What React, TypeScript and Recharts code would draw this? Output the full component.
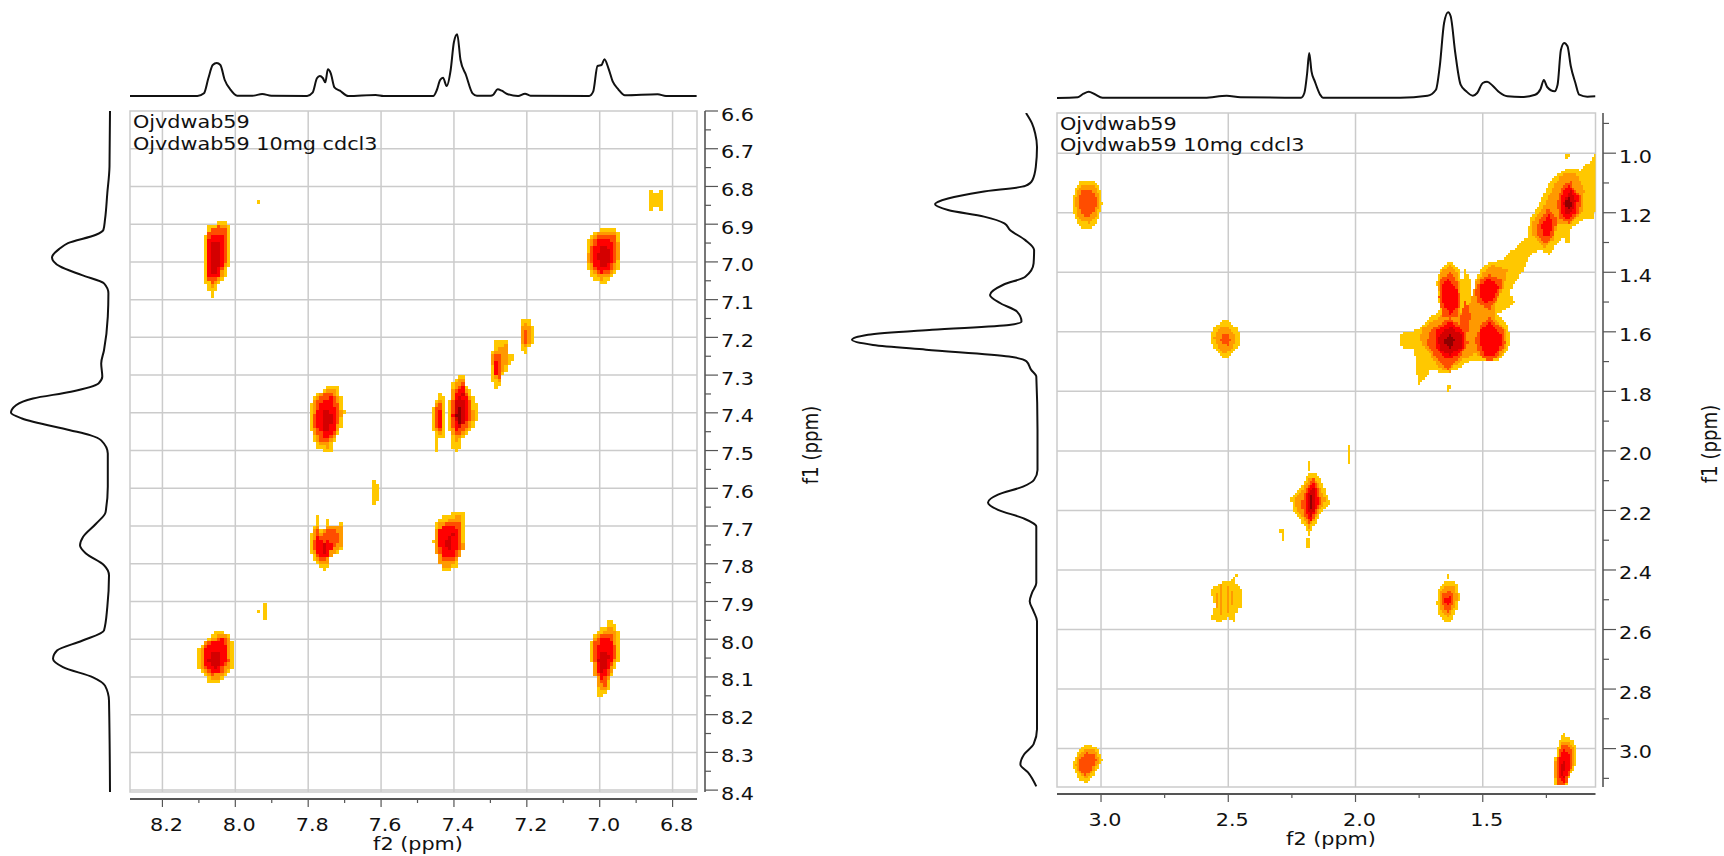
import { CartesianGrid, Line, LineChart, ReferenceArea, Scatter, ScatterChart, XAxis, YAxis } from "recharts";

type Pt = [number, number];
type Ring = [number, Pt[]];

// contour colours, weakest to strongest
const levelColors = ["#ffc800", "#ff9900", "#ff4d00", "#ff0000", "#d40000", "#8f0000"];

// 1D projections: [ppm, intensity]
const leftTopTrace: Pt[] = [
  [8.289, 0], [8.104, 0], [8.086, 2.7], [8.074, 17.7], [8.062, 31], [8.051, 33], [8.041, 31], [8.029, 16], [8.014, 6.7], [7.995, 0.3],
  [7.953, 0.3], [7.926, 2], [7.901, 0.3], [7.803, 0], [7.788, 3.3], [7.776, 17.7], [7.768, 20], [7.76, 18], [7.753, 13.7], [7.746, 26.7],
  [7.738, 22.7], [7.728, 8.7], [7.713, 5.3], [7.69, 0], [7.615, 1], [7.593, 0], [7.457, 0], [7.447, 6], [7.438, 16], [7.43, 18.3],
  [7.42, 10], [7.409, 26], [7.4, 54], [7.391, 61.7], [7.382, 36], [7.367, 21], [7.349, 2.7], [7.337, 0.3], [7.299, 0.3], [7.292, 1.3],
  [7.28, 6.7], [7.269, 5.3], [7.254, 2], [7.224, 0], [7.205, 2.3], [7.19, 0.3], [7.029, 0], [7.018, 4.3], [7.006, 30], [6.995, 31],
  [6.987, 36.7], [6.976, 27.7], [6.964, 14.3], [6.949, 6.7], [6.931, 0.7], [6.841, 1.7], [6.818, 0], [6.734, 0],
];
const leftSideTrace: Pt[] = [
  [6.6, 0], [6.747, 0.5], [6.818, 2.7], [6.888, 5], [6.915, 6.6], [6.928, 14], [6.95, 42], [6.964, 50], [6.988, 58], [7.012, 50],
  [7.035, 28], [7.057, 6], [7.083, 1.6], [7.145, 2.2], [7.234, 6], [7.269, 8.8], [7.304, 7.7], [7.322, 11.5], [7.344, 39], [7.362, 77],
  [7.38, 94], [7.4, 99], [7.415, 88], [7.446, 40], [7.459, 20], [7.473, 8.8], [7.508, 2.2], [7.596, 2.2], [7.663, 4.4], [7.694, 14],
  [7.729, 27], [7.751, 30], [7.773, 24], [7.804, 6], [7.831, 1], [7.915, 2.7], [7.977, 6], [8.004, 28], [8.03, 53], [8.052, 57],
  [8.074, 47], [8.101, 17], [8.123, 5], [8.163, 1], [8.405, 0],
];
const rightTopTrace: Pt[] = [
  [3.173, 0], [3.091, 0.7], [3.069, 4.3], [3.048, 6.3], [3.026, 4], [2.994, 0.3], [2.593, 0.3], [2.506, 2.3], [2.452, 0.7], [2.214, 0.3],
  [2.201, 5], [2.19, 25], [2.182, 45], [2.173, 26.7], [2.16, 16.7], [2.139, 3.3], [2.128, 0.3], [1.825, 0.3], [1.717, 2.3], [1.684, 8.3],
  [1.669, 31.7], [1.652, 75], [1.636, 85.7], [1.626, 81.7], [1.608, 45], [1.587, 13.3], [1.565, 6.7], [1.539, 2.3], [1.522, 5], [1.5, 15],
  [1.483, 16.3], [1.461, 12.3], [1.435, 5.7], [1.403, 1.7], [1.348, 1], [1.294, 3.3], [1.273, 9], [1.26, 18], [1.247, 11], [1.218, 6.7],
  [1.206, 13.3], [1.193, 48], [1.18, 55], [1.167, 51.7], [1.154, 31.7], [1.136, 15], [1.121, 3.3], [1.089, 1.3], [1.057, 1.7],
];
const rightSideTrace: Pt[] = [
  [0.865, 12], [0.9, 6], [0.934, 2.8], [0.979, 1], [1.046, 2.2], [1.09, 5.5], [1.11, 12.7], [1.13, 57], [1.152, 90], [1.171, 103],
  [1.191, 90], [1.213, 54], [1.236, 33.6], [1.258, 28], [1.292, 12.7], [1.325, 3.9], [1.37, 4.4], [1.415, 12.7], [1.442, 34.7], [1.476, 48],
  [1.504, 37.5], [1.532, 21], [1.565, 16.5], [1.577, 29], [1.593, 106], [1.61, 170], [1.627, 186], [1.644, 165], [1.66, 112], [1.683, 29],
  [1.699, 11.6], [1.727, 7], [1.75, 1.7], [1.929, 0.5], [2.064, 0.5], [2.097, 3.9], [2.12, 15], [2.147, 40], [2.173, 50], [2.198, 40],
  [2.226, 15], [2.254, 1.7], [2.444, 1.7], [2.477, 6], [2.505, 8.3], [2.539, 4.4], [2.572, 1], [2.935, 1], [2.985, 4.4], [3.019, 13.8],
  [3.053, 17.6], [3.08, 10], [3.127, 1.7],
];

// cross peaks: [contour level, outline as [f2, f1] ppm]
const peak805698: Ring[] = [
  [0, [[8.036, 6.891], [8.022, 6.891], [8.017, 6.906], [8.017, 7.008], [8.026, 7.039], [8.044, 7.057], [8.051, 7.074], [8.066, 7.092], [8.077, 7.074], [8.086, 7.039], [8.086, 6.942], [8.077, 6.906]]],
  [1, [[8.036, 6.9], [8.026, 6.9], [8.022, 6.915], [8.022, 6.99], [8.03, 7.03], [8.05, 7.05], [8.065, 7.07], [8.074, 7.05], [8.081, 7.03], [8.081, 6.95], [8.072, 6.915]]],
  [2, [[8.05, 6.905], [8.025, 6.915], [8.02, 6.98], [8.03, 7.01], [8.045, 7.04], [8.07, 7.055], [8.08, 7.03], [8.08, 6.93], [8.07, 6.91]]],
  [3, [[8.06, 6.928], [8.036, 6.928], [8.034, 7.0], [8.045, 7.04], [8.075, 7.04], [8.08, 6.99], [8.078, 6.94]]],
  [4, [[8.065, 6.95], [8.045, 6.95], [8.042, 7.0], [8.05, 7.03], [8.068, 7.03], [8.072, 6.99]]],
];
const peak70698: Ring[] = [
  [0, [[6.985, 6.91], [6.955, 6.91], [6.945, 6.935], [6.941, 6.985], [6.95, 7.02], [6.965, 7.04], [6.985, 7.057], [7.0, 7.057], [7.025, 7.035], [7.039, 7.0], [7.035, 6.94], [7.015, 6.92]]],
  [1, [[6.985, 6.92], [6.957, 6.92], [6.95, 6.945], [6.947, 6.985], [6.955, 7.015], [6.97, 7.035], [7.0, 7.045], [7.02, 7.025], [7.033, 6.995], [7.028, 6.945], [7.01, 6.925]]],
  [2, [[6.985, 6.925], [6.96, 6.93], [6.952, 6.95], [6.952, 6.99], [6.965, 7.02], [6.985, 7.035], [7.01, 7.025], [7.027, 6.99], [7.02, 6.945], [7.005, 6.93]]],
  [3, [[6.985, 6.935], [6.965, 6.945], [6.96, 6.99], [6.975, 7.02], [6.995, 7.03], [7.015, 7.01], [7.018, 6.96], [7.005, 6.94]]],
  [4, [[6.985, 6.955], [6.975, 6.965], [6.973, 6.995], [6.985, 7.01], [7.0, 7.01], [7.008, 6.985], [7.0, 6.96]]],
];
const peak775740: Ring[] = [
  [0, [[7.74, 7.327], [7.72, 7.327], [7.71, 7.36], [7.7, 7.4], [7.71, 7.44], [7.725, 7.47], [7.735, 7.5], [7.755, 7.5], [7.775, 7.49], [7.79, 7.46], [7.798, 7.42], [7.79, 7.36], [7.76, 7.34]]],
  [1, [[7.74, 7.335], [7.724, 7.337], [7.715, 7.365], [7.708, 7.405], [7.716, 7.44], [7.73, 7.465], [7.75, 7.49], [7.775, 7.475], [7.79, 7.45], [7.792, 7.42], [7.784, 7.365], [7.76, 7.345]]],
  [2, [[7.735, 7.345], [7.72, 7.365], [7.715, 7.41], [7.725, 7.45], [7.745, 7.48], [7.77, 7.47], [7.785, 7.43], [7.78, 7.37], [7.755, 7.35]]],
  [3, [[7.74, 7.36], [7.725, 7.385], [7.725, 7.44], [7.75, 7.47], [7.775, 7.44], [7.775, 7.39], [7.755, 7.365]]],
  [4, [[7.745, 7.39], [7.735, 7.41], [7.74, 7.44], [7.755, 7.45], [7.765, 7.43], [7.76, 7.4]]],
];
const peak743742: Ring[] = [
  [0, [[7.44, 7.345], [7.425, 7.36], [7.425, 7.46], [7.44, 7.47], [7.448, 7.5], [7.452, 7.5], [7.452, 7.45], [7.462, 7.44], [7.462, 7.39], [7.452, 7.37]]],
  [1, [[7.44, 7.365], [7.43, 7.37], [7.43, 7.455], [7.44, 7.46], [7.453, 7.44], [7.457, 7.4], [7.45, 7.375]]],
  [2, [[7.44, 7.375], [7.432, 7.39], [7.432, 7.45], [7.445, 7.45], [7.452, 7.42], [7.45, 7.385]]],
  [3, [[7.44, 7.39], [7.434, 7.4], [7.434, 7.44], [7.445, 7.44], [7.448, 7.41]]],
];
const peak739738: Ring[] = [
  [0, [[7.385, 7.3], [7.37, 7.3], [7.368, 7.32], [7.345, 7.36], [7.337, 7.385], [7.337, 7.42], [7.35, 7.44], [7.375, 7.47], [7.385, 7.5], [7.4, 7.5], [7.41, 7.46], [7.415, 7.41], [7.41, 7.34], [7.4, 7.315]]],
  [1, [[7.385, 7.31], [7.372, 7.31], [7.365, 7.34], [7.35, 7.37], [7.345, 7.42], [7.36, 7.44], [7.38, 7.46], [7.395, 7.48], [7.405, 7.45], [7.41, 7.41], [7.405, 7.34], [7.395, 7.325]]],
  [2, [[7.38, 7.32], [7.37, 7.335], [7.355, 7.37], [7.35, 7.415], [7.37, 7.44], [7.385, 7.46], [7.4, 7.45], [7.407, 7.41], [7.4, 7.345], [7.39, 7.33]]],
  [3, [[7.375, 7.33], [7.36, 7.375], [7.357, 7.41], [7.375, 7.43], [7.395, 7.45], [7.403, 7.41], [7.397, 7.35]]],
  [4, [[7.38, 7.35], [7.368, 7.38], [7.368, 7.42], [7.385, 7.44], [7.4, 7.41], [7.395, 7.365]]],
  [5, [[7.385, 7.385], [7.378, 7.4], [7.38, 7.42], [7.39, 7.425], [7.395, 7.4]]],
];
const peak728727: Ring[] = [
  [0, [[7.285, 7.21], [7.255, 7.21], [7.25, 7.24], [7.236, 7.245], [7.236, 7.26], [7.25, 7.27], [7.25, 7.285], [7.265, 7.3], [7.28, 7.335], [7.29, 7.335], [7.299, 7.29], [7.299, 7.25]]],
  [1, [[7.28, 7.225], [7.255, 7.22], [7.255, 7.27], [7.265, 7.29], [7.28, 7.32], [7.292, 7.3], [7.295, 7.25]]],
  [2, [[7.28, 7.24], [7.27, 7.25], [7.268, 7.28], [7.28, 7.31], [7.29, 7.29], [7.292, 7.25]]],
  [3, [[7.285, 7.26], [7.275, 7.27], [7.278, 7.295], [7.286, 7.3], [7.29, 7.27]]],
];
const peak720720: Ring[] = [
  [0, [[7.207, 7.147], [7.197, 7.147], [7.183, 7.17], [7.183, 7.21], [7.195, 7.23], [7.195, 7.245], [7.208, 7.245], [7.22, 7.22], [7.22, 7.165]]],
  [1, [[7.205, 7.16], [7.19, 7.175], [7.19, 7.21], [7.2, 7.23], [7.215, 7.215], [7.215, 7.175]]],
  [2, [[7.205, 7.175], [7.197, 7.185], [7.197, 7.21], [7.205, 7.22], [7.212, 7.2]]],
];
const peak775775: Ring[] = [
  [0, [[7.778, 7.672], [7.772, 7.672], [7.768, 7.71], [7.755, 7.715], [7.75, 7.683], [7.742, 7.683], [7.74, 7.7], [7.725, 7.7], [7.705, 7.69], [7.705, 7.755], [7.72, 7.77], [7.74, 7.78], [7.745, 7.8], [7.75, 7.818], [7.758, 7.818], [7.78, 7.8], [7.795, 7.76], [7.798, 7.75], [7.79, 7.71], [7.78, 7.7]]],
  [1, [[7.775, 7.7], [7.76, 7.72], [7.748, 7.695], [7.735, 7.695], [7.71, 7.695], [7.71, 7.755], [7.725, 7.77], [7.738, 7.78], [7.75, 7.805], [7.775, 7.795], [7.79, 7.76], [7.787, 7.71]]],
  [2, [[7.775, 7.71], [7.76, 7.73], [7.75, 7.71], [7.722, 7.705], [7.715, 7.745], [7.74, 7.77], [7.75, 7.795], [7.775, 7.785], [7.787, 7.75]]],
  [3, [[7.775, 7.73], [7.755, 7.745], [7.74, 7.735], [7.735, 7.76], [7.75, 7.785], [7.772, 7.78], [7.782, 7.75]]],
  [4, [[7.76, 7.745], [7.75, 7.755], [7.755, 7.775], [7.765, 7.77]]],
];
const peak742774: Ring[] = [
  [0, [[7.395, 7.663], [7.371, 7.663], [7.371, 7.76], [7.385, 7.785], [7.395, 7.81], [7.41, 7.818], [7.43, 7.818], [7.44, 7.8], [7.45, 7.77], [7.457, 7.74], [7.45, 7.69], [7.43, 7.675]]],
  [1, [[7.395, 7.675], [7.377, 7.675], [7.375, 7.76], [7.388, 7.79], [7.41, 7.808], [7.435, 7.805], [7.45, 7.77], [7.452, 7.72], [7.44, 7.69], [7.42, 7.685]]],
  [2, [[7.4, 7.685], [7.382, 7.69], [7.38, 7.755], [7.395, 7.79], [7.43, 7.795], [7.445, 7.76], [7.447, 7.72], [7.43, 7.695]]],
  [3, [[7.41, 7.695], [7.39, 7.705], [7.388, 7.75], [7.4, 7.78], [7.43, 7.78], [7.44, 7.75], [7.44, 7.71], [7.425, 7.7]]],
  [4, [[7.41, 7.72], [7.403, 7.74], [7.408, 7.76], [7.42, 7.76], [7.425, 7.74]]],
];
const peak805805: Ring[] = [
  [0, [[8.04, 7.973], [8.03, 7.983], [8.015, 7.985], [8.006, 8.01], [8.006, 8.07], [8.02, 8.09], [8.035, 8.105], [8.05, 8.119], [8.07, 8.119], [8.09, 8.09], [8.104, 8.07], [8.104, 8.03], [8.09, 8.01], [8.065, 7.985]]],
  [1, [[8.035, 7.985], [8.015, 7.995], [8.012, 8.065], [8.03, 8.095], [8.05, 8.11], [8.075, 8.1], [8.095, 8.07], [8.095, 8.03], [8.085, 8.01], [8.06, 7.995]]],
  [2, [[8.035, 7.995], [8.02, 8.005], [8.018, 8.06], [8.04, 8.09], [8.07, 8.095], [8.09, 8.07], [8.09, 8.025], [8.07, 8.005]]],
  [3, [[8.04, 8.0], [8.026, 8.015], [8.025, 8.06], [8.045, 8.085], [8.07, 8.085], [8.085, 8.065], [8.085, 8.03], [8.07, 8.01]]],
  [4, [[8.045, 8.03], [8.035, 8.05], [8.04, 8.07], [8.06, 8.075], [8.075, 8.06], [8.07, 8.035]]],
];
const peak70805: Ring[] = [
  [0, [[6.985, 7.953], [6.96, 7.953], [6.946, 7.98], [6.946, 8.05], [6.965, 8.09], [6.975, 8.13], [6.995, 8.152], [7.005, 8.152], [7.01, 8.12], [7.02, 8.06], [7.029, 8.06], [7.029, 8.01], [7.015, 8.0], [7.01, 7.975], [6.985, 7.97]]],
  [1, [[6.985, 7.965], [6.96, 7.97], [6.952, 7.985], [6.952, 8.05], [6.97, 8.09], [6.985, 8.13], [7.0, 8.135], [7.015, 8.09], [7.02, 8.01], [7.005, 7.985], [6.985, 7.98]]],
  [2, [[6.98, 7.985], [6.96, 7.985], [6.957, 8.05], [6.975, 8.09], [6.99, 8.125], [7.005, 8.1], [7.015, 8.05], [7.015, 8.01], [7.0, 7.99]]],
  [3, [[6.98, 7.995], [6.965, 8.005], [6.963, 8.05], [6.98, 8.09], [6.995, 8.11], [7.008, 8.08], [7.012, 8.03], [7.0, 8.0]]],
  [4, [[6.985, 8.03], [6.975, 8.045], [6.985, 8.08], [7.0, 8.085], [7.005, 8.05], [6.998, 8.03]]],
];
const leftSpecks: Ring[] = [
  [0, [[7.625, 7.574], [7.62, 7.574], [7.62, 7.582], [7.609, 7.59], [7.609, 7.63], [7.62, 7.64], [7.626, 7.645]]],
  [0, [[6.866, 6.811], [6.858, 6.811], [6.858, 6.82], [6.84, 6.82], [6.84, 6.811], [6.83, 6.811], [6.83, 6.864], [6.84, 6.864], [6.84, 6.855], [6.858, 6.855], [6.858, 6.864], [6.866, 6.864]]],
  [0, [[7.94, 6.838], [7.933, 6.838], [7.933, 6.847], [7.94, 6.847]]],
  [0, [[7.943, 7.917], [7.932, 7.917], [7.932, 7.934], [7.943, 7.934]]],
  [0, [[7.923, 7.902], [7.916, 7.902], [7.916, 7.953], [7.923, 7.953]]],
];

const peak307116: Ring[] = [
  [0, [[3.08, 1.09], [3.025, 1.09], [3.0, 1.13], [2.994, 1.17], [3.01, 1.215], [3.03, 1.25], [3.08, 1.25], [3.105, 1.215], [3.113, 1.17], [3.105, 1.13]]],
  [1, [[3.075, 1.105], [3.03, 1.105], [3.01, 1.135], [3.005, 1.17], [3.02, 1.21], [3.04, 1.235], [3.075, 1.23], [3.095, 1.205], [3.102, 1.165], [3.095, 1.13]]],
  [2, [[3.07, 1.125], [3.035, 1.125], [3.02, 1.15], [3.02, 1.18], [3.03, 1.2], [3.05, 1.215], [3.075, 1.205], [3.09, 1.175], [3.085, 1.14]]],
];
const peak252162: Ring[] = [
  [0, [[2.52, 1.56], [2.495, 1.565], [2.465, 1.59], [2.452, 1.62], [2.46, 1.65], [2.49, 1.68], [2.505, 1.69], [2.52, 1.692], [2.55, 1.66], [2.571, 1.63], [2.56, 1.59]]],
  [1, [[2.515, 1.58], [2.48, 1.6], [2.47, 1.625], [2.485, 1.655], [2.515, 1.675], [2.545, 1.645], [2.555, 1.62], [2.54, 1.59]]],
  [2, [[2.505, 1.605], [2.49, 1.625], [2.505, 1.645], [2.53, 1.635], [2.525, 1.61]]],
];
const diagonalCluster: Ring[] = [
  [0, [[1.058, 1.006], [1.057, 1.068], [1.057, 1.185], [1.061, 1.219], [1.101, 1.224], [1.148, 1.247], [1.168, 1.275], [1.208, 1.303], [1.235, 1.342], [1.275, 1.325], [1.315, 1.342], [1.342, 1.398], [1.375, 1.437], [1.395, 1.465], [1.375, 1.504], [1.409, 1.526], [1.442, 1.538], [1.402, 1.582], [1.389, 1.627], [1.402, 1.666], [1.449, 1.7], [1.502, 1.694], [1.556, 1.7], [1.602, 1.728], [1.649, 1.739], [1.703, 1.728], [1.723, 1.75], [1.749, 1.778], [1.763, 1.728], [1.769, 1.661], [1.823, 1.65], [1.823, 1.605], [1.756, 1.594], [1.703, 1.549], [1.669, 1.526], [1.683, 1.437], [1.663, 1.387], [1.629, 1.364], [1.596, 1.387], [1.582, 1.437], [1.569, 1.387], [1.549, 1.426], [1.542, 1.482], [1.522, 1.415], [1.509, 1.387], [1.462, 1.364], [1.422, 1.359], [1.369, 1.314], [1.322, 1.28], [1.315, 1.224], [1.275, 1.169], [1.248, 1.113], [1.208, 1.068], [1.175, 1.057], [1.155, 1.051], [1.115, 1.057], [1.081, 1.029]]],
  [0, [[1.172, 1.004], [1.158, 1.004], [1.165, 1.022], [1.172, 1.022]]],
  [0, [[1.645, 1.78], [1.622, 1.775], [1.63, 1.798], [1.645, 1.798]]],
  [0, [[1.176, 1.27], [1.156, 1.27], [1.16, 1.3], [1.172, 1.3]]],
  [1, [[1.135, 1.068], [1.101, 1.124], [1.108, 1.191], [1.155, 1.241], [1.208, 1.236], [1.222, 1.292], [1.262, 1.314], [1.302, 1.28], [1.308, 1.236], [1.262, 1.18], [1.228, 1.124], [1.195, 1.073]]],
  [1, [[1.629, 1.375], [1.598, 1.403], [1.589, 1.482], [1.589, 1.538], [1.556, 1.515], [1.529, 1.437], [1.502, 1.403], [1.462, 1.375], [1.402, 1.392], [1.422, 1.459], [1.455, 1.515], [1.455, 1.549], [1.409, 1.594], [1.406, 1.65], [1.435, 1.689], [1.489, 1.689], [1.529, 1.672], [1.582, 1.694], [1.636, 1.733], [1.676, 1.717], [1.709, 1.672], [1.749, 1.627], [1.736, 1.588], [1.676, 1.554], [1.656, 1.538], [1.676, 1.448], [1.663, 1.398]]],
  [2, [[1.162, 1.096], [1.115, 1.141], [1.121, 1.196], [1.162, 1.236], [1.202, 1.219], [1.208, 1.169], [1.195, 1.124]]],
  [2, [[1.242, 1.185], [1.208, 1.224], [1.222, 1.275], [1.255, 1.303], [1.288, 1.275], [1.282, 1.23]]],
  [2, [[1.629, 1.398], [1.596, 1.437], [1.593, 1.515], [1.602, 1.554], [1.656, 1.549], [1.673, 1.482], [1.665, 1.426]]],
  [2, [[1.476, 1.409], [1.422, 1.426], [1.442, 1.493], [1.476, 1.526], [1.522, 1.504], [1.529, 1.459], [1.509, 1.426]]],
  [2, [[1.569, 1.493], [1.549, 1.538], [1.556, 1.594], [1.582, 1.616], [1.589, 1.549]]],
  [2, [[1.629, 1.554], [1.569, 1.588], [1.558, 1.638], [1.589, 1.683], [1.636, 1.728], [1.676, 1.694], [1.723, 1.638], [1.703, 1.594]]],
  [2, [[1.476, 1.554], [1.422, 1.588], [1.411, 1.638], [1.442, 1.683], [1.482, 1.7], [1.515, 1.672], [1.529, 1.627], [1.509, 1.577]]],
  [3, [[1.162, 1.107], [1.125, 1.146], [1.135, 1.202], [1.168, 1.224], [1.195, 1.196], [1.195, 1.146]]],
  [3, [[1.242, 1.208], [1.222, 1.236], [1.235, 1.275], [1.262, 1.28], [1.268, 1.241]]],
  [3, [[1.636, 1.42], [1.602, 1.459], [1.602, 1.515], [1.629, 1.543], [1.656, 1.504], [1.663, 1.448]]],
  [3, [[1.476, 1.42], [1.435, 1.448], [1.462, 1.493], [1.489, 1.504], [1.515, 1.476], [1.509, 1.443]]],
  [3, [[1.629, 1.566], [1.576, 1.599], [1.569, 1.644], [1.602, 1.683], [1.649, 1.689], [1.689, 1.65], [1.689, 1.599]]],
  [3, [[1.476, 1.571], [1.429, 1.605], [1.429, 1.65], [1.455, 1.683], [1.495, 1.677], [1.515, 1.638], [1.509, 1.594]]],
  [4, [[1.158, 1.124], [1.135, 1.157], [1.148, 1.196], [1.175, 1.208], [1.181, 1.163]]],
  [4, [[1.629, 1.582], [1.585, 1.61], [1.585, 1.655], [1.629, 1.677], [1.669, 1.661], [1.676, 1.616]]],
  [5, [[1.164, 1.146], [1.148, 1.169], [1.164, 1.191], [1.175, 1.169]]],
  [5, [[1.629, 1.605], [1.606, 1.627], [1.629, 1.655], [1.656, 1.633]]],
];
const peak218217: Ring[] = [
  [0, [[2.16, 2.073], [2.139, 2.092], [2.106, 2.159], [2.1, 2.178], [2.128, 2.198], [2.16, 2.248], [2.182, 2.282], [2.203, 2.248], [2.247, 2.198], [2.253, 2.159], [2.203, 2.108], [2.188, 2.08]]],
  [1, [[2.165, 2.09], [2.145, 2.11], [2.118, 2.165], [2.135, 2.195], [2.165, 2.235], [2.183, 2.26], [2.2, 2.235], [2.235, 2.19], [2.24, 2.165], [2.2, 2.12], [2.185, 2.095]]],
  [2, [[2.165, 2.095], [2.15, 2.115], [2.135, 2.17], [2.15, 2.205], [2.18, 2.245], [2.2, 2.22], [2.215, 2.175], [2.19, 2.12]]],
  [3, [[2.165, 2.105], [2.155, 2.125], [2.145, 2.17], [2.16, 2.21], [2.18, 2.235], [2.195, 2.2], [2.2, 2.165], [2.185, 2.125]]],
  [4, [[2.165, 2.12], [2.158, 2.15], [2.16, 2.2], [2.178, 2.22], [2.19, 2.185], [2.187, 2.145]]],
  [5, [[2.172, 2.15], [2.165, 2.17], [2.172, 2.2], [2.182, 2.185], [2.18, 2.16]]],
];
const peak250250: Ring[] = [
  [0, [[2.474, 2.416], [2.468, 2.444], [2.446, 2.466], [2.442, 2.522], [2.46, 2.53], [2.474, 2.555], [2.478, 2.572], [2.5, 2.56], [2.539, 2.578], [2.567, 2.561], [2.55, 2.52], [2.571, 2.466], [2.528, 2.444], [2.485, 2.433]]],
  [1, [[2.536, 2.45], [2.528, 2.45], [2.525, 2.55], [2.536, 2.55]]],
  [1, [[2.51, 2.458], [2.5, 2.458], [2.5, 2.54], [2.51, 2.54]]],
  [1, [[2.552, 2.48], [2.544, 2.48], [2.544, 2.53], [2.552, 2.53]]],
  [1, [[2.488, 2.47], [2.48, 2.47], [2.48, 2.52], [2.488, 2.52]]],
];
const peak164250: Ring[] = [
  [0, [[1.652, 2.441], [1.604, 2.441], [1.591, 2.488], [1.604, 2.539], [1.63, 2.578], [1.647, 2.578], [1.673, 2.55], [1.682, 2.511], [1.673, 2.466]]],
  [1, [[1.645, 2.455], [1.61, 2.455], [1.6, 2.49], [1.612, 2.53], [1.64, 2.56], [1.665, 2.535], [1.672, 2.5], [1.665, 2.47]]],
  [2, [[1.64, 2.47], [1.62, 2.475], [1.615, 2.5], [1.625, 2.53], [1.645, 2.54], [1.658, 2.515], [1.658, 2.485]]],
  [3, [[1.635, 2.49], [1.625, 2.5], [1.632, 2.52], [1.645, 2.52], [1.648, 2.5]]],
];
const peak306305: Ring[] = [
  [0, [[3.058, 2.985], [3.015, 2.997], [2.994, 3.041], [3.026, 3.086], [3.058, 3.114], [3.091, 3.103], [3.113, 3.058], [3.091, 3.014]]],
  [1, [[3.055, 3.0], [3.025, 3.005], [3.005, 3.04], [3.035, 3.08], [3.06, 3.1], [3.085, 3.085], [3.102, 3.055], [3.085, 3.02]]],
  [2, [[3.055, 3.012], [3.028, 3.022], [3.018, 3.04], [3.04, 3.075], [3.065, 3.092], [3.09, 3.065], [3.08, 3.028]]],
];
const peak117305: Ring[] = [
  [0, [[1.186, 2.95], [1.175, 2.964], [1.143, 2.969], [1.132, 3.002], [1.136, 3.058], [1.165, 3.103], [1.17, 3.127], [1.214, 3.127], [1.223, 3.058], [1.208, 3.002], [1.197, 2.969]]],
  [1, [[1.19, 2.975], [1.15, 2.985], [1.14, 3.01], [1.142, 3.055], [1.165, 3.1], [1.175, 3.127], [1.212, 3.127], [1.218, 3.055], [1.2, 3.01]]],
  [2, [[1.19, 2.985], [1.155, 2.995], [1.147, 3.03], [1.155, 3.075], [1.175, 3.125], [1.208, 3.125], [1.213, 3.05], [1.198, 3.005]]],
  [3, [[1.185, 3.005], [1.16, 3.02], [1.16, 3.07], [1.18, 3.115], [1.205, 3.09], [1.205, 3.04]]],
  [4, [[1.185, 3.04], [1.175, 3.06], [1.185, 3.1], [1.197, 3.07]]],
];
const rightSpecks: Ring[] = [
  [0, [[2.19, 2.036], [2.175, 2.036], [2.175, 2.064], [2.19, 2.064]]],
  [0, [[2.297, 2.263], [2.283, 2.263], [2.283, 2.298], [2.29, 2.298]]],
  [0, [[2.197, 2.29], [2.177, 2.29], [2.177, 2.326], [2.197, 2.326]]],
  [0, [[2.027, 1.981], [2.019, 1.981], [2.019, 2.044], [2.027, 2.044]]],
  [0, [[1.645, 2.416], [1.638, 2.416], [1.638, 2.428], [1.645, 2.428]]],
];

const leftPeaks = [peak805698, peak70698, peak775740, peak743742, peak739738, peak728727, peak720720, peak775775, peak742774, peak805805, peak70805, leftSpecks];
const rightPeaks = [peak307116, peak252162, diagonalCluster, peak218217, peak250250, peak164250, peak306305, peak117305, rightSpecks];

const leftF2Major = [8.2, 8.0, 7.8, 7.6, 7.4, 7.2, 7.0, 6.8];
const leftF2Minor = [8.1, 7.9, 7.7, 7.5, 7.3, 7.1, 6.9];
const leftF1Major = [6.6, 6.7, 6.8, 6.9, 7.0, 7.1, 7.2, 7.3, 7.4, 7.5, 7.6, 7.7, 7.8, 7.9, 8.0, 8.1, 8.2, 8.3, 8.4];
const leftF1Minor = [6.65, 6.75, 6.85, 6.95, 7.05, 7.15, 7.25, 7.35, 7.45, 7.55, 7.65, 7.75, 7.85, 7.95, 8.05, 8.15, 8.25, 8.35];
const rightF2Major = [3.0, 2.5, 2.0, 1.5];
const rightF2Minor = [2.75, 2.25, 1.75, 1.25];
const rightF1Major = [1.0, 1.2, 1.4, 1.6, 1.8, 2.0, 2.2, 2.4, 2.6, 2.8, 3.0];
const rightF1Minor = [0.9, 1.1, 1.3, 1.5, 1.7, 1.9, 2.1, 2.3, 2.5, 2.7, 2.9, 3.1];

const FONT = "'DejaVu Sans', sans-serif";
const INK = "#111";
const STRIP_PAD = 14;

const toSpectrum = (pts: Pt[]) => pts.map(([ppm, intensity]) => ({ ppm, intensity }));
const byLevel = (groups: Ring[][]) => groups.flat().sort((a, b) => a[0] - b[0]);

// the source was exported slightly wider than tall, hence the stretch
function WideText({ x, y, rotate, anchor = "start", children }: any) {
  const tf = rotate
    ? `translate(${x} ${y}) rotate(-90) scale(1 1.14)`
    : `translate(${x} ${y}) scale(1.14 1)`;
  return (
    <text transform={tf} fontFamily={FONT} fontSize={18.2} fill={INK} textAnchor={anchor}>
      {children}
    </text>
  );
}

// paints a contour outline on the data grid of the spectrum, row by row
function ContourCells({ points, fill, cellW, cellH }: any) {
  if (!points?.length) return null;
  const ys = points.map((p: any) => p.y);
  const r0 = Math.floor(Math.min(...ys) / cellH);
  const r1 = Math.ceil(Math.max(...ys) / cellH);
  let d = "";
  for (let r = r0; r <= r1; r++) {
    const cy = (r + 0.5) * cellH;
    const xs: number[] = [];
    points.forEach((a: any, i: number) => {
      const b = points[(i + 1) % points.length];
      if (a.y <= cy !== b.y <= cy) xs.push(a.x + ((cy - a.y) / (b.y - a.y)) * (b.x - a.x));
    });
    xs.sort((m, n) => m - n);
    for (let i = 0; i + 1 < xs.length; i += 2) {
      const c0 = Math.round(xs[i] / cellW);
      const c1 = Math.max(c0 + 1, Math.round(xs[i + 1] / cellW));
      d += `M${c0 * cellW} ${r * cellH}H${c1 * cellW}V${(r + 1) * cellH}H${c0 * cellW}Z`;
    }
  }
  return <path d={d} fill={fill} stroke="none" shapeRendering="crispEdges" />;
}

const NoMark = () => <g />;

function Panel({ p }: { p: any }) {
  const { box, f2Domain, f1Domain } = p;
  const w = box.right - box.left;
  const h = box.bottom - box.top;
  const rings = byLevel(p.peaks);
  const stripW = p.f1TitleX - p.yAxisX + 20;
  return (
    <>
      {/* top projection */}
      <div style={{ position: "absolute", left: box.left, top: p.topY }}>
        <LineChart width={w} height={p.topH + 2} data={toSpectrum(p.topTrace)} margin={{ top: 0, right: 0, bottom: 2, left: 0 }}>
          <XAxis dataKey="ppm" type="number" domain={f2Domain} reversed hide allowDataOverflow />
          <YAxis type="number" domain={[0, p.topH]} hide />
          <Line dataKey="intensity" type="monotone" stroke={INK} strokeWidth={2} dot={false} isAnimationActive={false} />
        </LineChart>
      </div>

      {/* side projection */}
      <div style={{ position: "absolute", left: p.sideX - p.sideW, top: box.top }}>
        <LineChart layout="vertical" width={p.sideW + 2} height={h} data={toSpectrum(p.sideTrace)} margin={{ top: 0, right: 2, bottom: 0, left: 0 }}>
          <XAxis type="number" domain={[0, p.sideW]} reversed hide />
          <YAxis dataKey="ppm" type="number" domain={f1Domain} hide allowDataOverflow />
          <Line dataKey="intensity" type="monotone" stroke={INK} strokeWidth={2} dot={false} isAnimationActive={false} />
        </LineChart>
      </div>

      {/* 2D map */}
      <div style={{ position: "absolute", left: box.left - 2, top: box.top - 2 }}>
        <ScatterChart width={w + 4} height={h + 4} margin={{ top: 2, right: 2, bottom: 2, left: 2 }}>
          <XAxis dataKey="f2" type="number" domain={f2Domain} reversed hide allowDataOverflow />
          <YAxis dataKey="f1" type="number" domain={f1Domain} reversed hide allowDataOverflow />
          <CartesianGrid stroke="#cbcbcb" strokeWidth={1.5} verticalValues={p.f2Major} horizontalValues={p.f1Major} />
          <ReferenceArea x1={f2Domain[0]} x2={f2Domain[1]} y1={f1Domain[0]} y2={f1Domain[1]} fill="none" stroke="#cbcbcb" strokeWidth={1.5} ifOverflow="visible" />
          {rings.map(([level, outline], i) => (
            <Scatter
              key={i}
              data={outline.map(([f2, f1]) => ({ f2, f1 }))}
              shape={NoMark}
              isAnimationActive={false}
              line={(lp: any) => <ContourCells points={lp.points} fill={levelColors[level]} cellW={p.cellW} cellH={p.cellH} />}
            />
          ))}
          {p.titles.map((t: string, i: number) => (
            <WideText key={t} x={p.titleX - box.left + 2} y={p.titleY[i] - box.top + 2}>
              {t}
            </WideText>
          ))}
        </ScatterChart>
      </div>

      {/* f2 axis, set apart from the map */}
      <div style={{ position: "absolute", left: box.left - 20, top: p.xAxisY - 2 }}>
        <ScatterChart width={w + 40} height={60} margin={{ top: 0, right: 20, bottom: 57, left: 20 }}>
          <XAxis
            type="number"
            dataKey="f2"
            domain={f2Domain}
            reversed
            allowDataOverflow
            height={1}
            ticks={[...p.f2Major, ...p.f2Minor]}
            interval={0}
            tickSize={0}
            tickLine={false}
            axisLine={{ stroke: "#555", strokeWidth: 2.2 }}
            tick={(t: any) => {
              const major = p.f2Major.includes(t.payload.value);
              return (
                <g>
                  <line x1={t.x} x2={t.x} y1={2} y2={major ? 10 : 6} stroke="#555" strokeWidth={1.2} />
                  {major && (
                    <WideText x={t.x + 4} y={p.xLabelY - p.xAxisY + 2} anchor="middle">
                      {t.payload.value.toFixed(1)}
                    </WideText>
                  )}
                </g>
              );
            }}
          />
          <YAxis hide dataKey="f1" type="number" domain={f1Domain} />
          <Scatter data={[]} isAnimationActive={false} />
          <WideText x={p.f2TitleX - box.left + 20} y={p.f2TitleY - p.xAxisY + 2} anchor="middle">
            f2 (ppm)
          </WideText>
        </ScatterChart>
      </div>

      {/* f1 axis */}
      <div style={{ position: "absolute", left: p.yAxisX - 2, top: box.top - STRIP_PAD }}>
        <ScatterChart width={stripW} height={h + 2 * STRIP_PAD} margin={{ top: STRIP_PAD, right: stripW - 3, bottom: STRIP_PAD, left: 0 }}>
          <XAxis hide dataKey="f2" type="number" domain={f2Domain} />
          <YAxis
            orientation="right"
            type="number"
            dataKey="f1"
            domain={f1Domain}
            reversed
            allowDataOverflow
            width={1}
            ticks={[...p.f1Major, ...p.f1Minor]}
            interval={0}
            tickSize={0}
            tickLine={false}
            axisLine={{ stroke: "#555", strokeWidth: 1.6 }}
            tick={(t: any) => {
              const major = p.f1Major.includes(t.payload.value);
              return (
                <g>
                  <line x1={2} x2={major ? 15 : 8} y1={t.y} y2={t.y} stroke="#555" strokeWidth={1.2} />
                  {major && (
                    <WideText x={18} y={t.y + 9.5}>
                      {t.payload.value.toFixed(1)}
                    </WideText>
                  )}
                </g>
              );
            }}
          />
          <Scatter data={[]} isAnimationActive={false} />
          <WideText x={p.f1TitleX - p.yAxisX + 2} y={p.f1TitleY - box.top + STRIP_PAD} rotate anchor="middle">
            f1 (ppm)
          </WideText>
        </ScatterChart>
      </div>
    </>
  );
}

const titles = ["Ojvdwab59", "Ojvdwab59 10mg cdcl3"];

const leftPanel = {
  box: { left: 130, right: 697, top: 111, bottom: 792 },
  f2Domain: [6.733, 8.289],
  f1Domain: [6.6, 8.405],
  topTrace: leftTopTrace,
  sideTrace: leftSideTrace,
  topY: 26,
  topH: 70,
  sideX: 110,
  sideW: 110,
  peaks: leftPeaks,
  cellW: 3.3,
  cellH: 3.5,
  titles,
  titleX: 133,
  titleY: [128, 150],
  f2Major: leftF2Major,
  f2Minor: leftF2Minor,
  f1Major: leftF1Major,
  f1Minor: leftF1Minor,
  xAxisY: 799,
  xLabelY: 831,
  f2TitleX: 418,
  f2TitleY: 850,
  yAxisX: 705,
  f1TitleX: 818,
  f1TitleY: 445,
};

const rightPanel = {
  box: { left: 1057, right: 1595.5, top: 113, bottom: 787 },
  f2Domain: [1.057, 3.173],
  f1Domain: [0.865, 3.129],
  topTrace: rightTopTrace,
  sideTrace: rightSideTrace,
  topY: 10,
  topH: 88,
  sideX: 1038,
  sideW: 190,
  peaks: rightPeaks,
  cellW: 2.2,
  cellH: 2.4,
  titles,
  titleX: 1060,
  titleY: [130, 151],
  f2Major: rightF2Major,
  f2Minor: rightF2Minor,
  f1Major: rightF1Major,
  f1Minor: rightF1Minor,
  xAxisY: 794,
  xLabelY: 826,
  f2TitleX: 1331,
  f2TitleY: 845,
  yAxisX: 1603,
  f1TitleX: 1717,
  f1TitleY: 444,
};

export default function App() {
  return (
    <div style={{ position: "absolute", left: 0, top: 0, width: 1724, height: 856, background: "#fff", overflow: "hidden" }}>
      <Panel p={leftPanel} />
      <Panel p={rightPanel} />
    </div>
  );
}
